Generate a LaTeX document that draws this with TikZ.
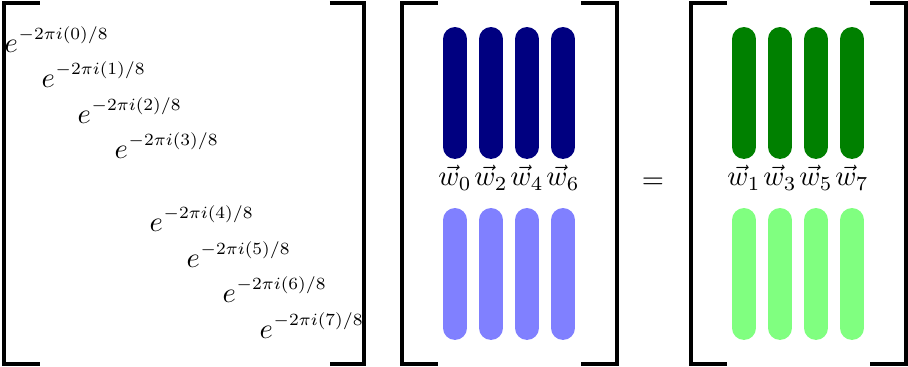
\documentclass[tikz,border=0pt]{standalone}
\usepackage{graphicx}
\newcommand{\diagent}[1]{$e$\kern0.3pt\raisebox{4.9pt}{\scalebox{0.86}{$\scriptstyle -2\pi i(#1)/8$}}}
\begin{document}
\begin{tikzpicture}[x=0.351pt,y=-0.351pt,
  brk/.style={line width=1.45pt,line join=miter,line cap=butt},
  pill/.style={draw=none,rectangle,rounded corners=4.2pt,minimum width=8.4pt,minimum height=46.3pt,inner sep=0pt},
  ent/.style={anchor=base west,inner sep=0pt},
  lab/.style={anchor=base,inner sep=0pt}]
\useasboundingbox (0,0) rectangle (908,367);
% brackets
\draw[brk] (40,3) -- (4,3) -- (4,364) -- (40,364);
\draw[brk] (330,3) -- (364,3) -- (364,364) -- (330,364);
\draw[brk] (438,3) -- (402,3) -- (402,364) -- (438,364);
\draw[brk] (581,3) -- (617,3) -- (617,364) -- (581,364);
\draw[brk] (727,3) -- (691,3) -- (691,364) -- (727,364);
\draw[brk] (870,3) -- (906,3) -- (906,364) -- (870,364);
% diagonal entries
\node[ent] (e0) at (4,53) {\diagent{0}};
\node[ent] (e1) at (41,88) {\diagent{1}};
\node[ent] (e2) at (77,124) {\diagent{2}};
\node[ent] (e3) at (114,159) {\diagent{3}};
\node[ent] (e4) at (149,232) {\diagent{4}};
\node[ent] (e5) at (186,268) {\diagent{5}};
\node[ent] (e6) at (222,303) {\diagent{6}};
\node[ent] (e7) at (259,339) {\diagent{7}};
% blue pills
\foreach \i/\x in {0/455,1/491,2/527,3/563}{
  \node[pill,fill=blue!50!black] (bt\i) at (\x,93) {};
  \node[pill,fill=blue!50] (bb\i) at (\x,274) {};
}
\foreach \i/\x/\n in {0/455/0,1/491/2,2/527/4,3/563/6}{
  \node[lab] (wb\i) at (\x,186) {$\vec{w}_{\n}$};
}
% green pills
\foreach \i/\x in {0/744,1/780,2/816,3/852}{
  \node[pill,fill=green!50!black] (gt\i) at (\x,93) {};
  \node[pill,fill=green!50] (gb\i) at (\x,274) {};
}
\foreach \i/\x/\n in {0/744/1,1/780/3,2/816/5,3/852/7}{
  \node[lab] (wg\i) at (\x,186) {$\vec{w}_{\n}$};
}
\node (eq) at (653,183) {$=$};
\end{tikzpicture}
\end{document}
